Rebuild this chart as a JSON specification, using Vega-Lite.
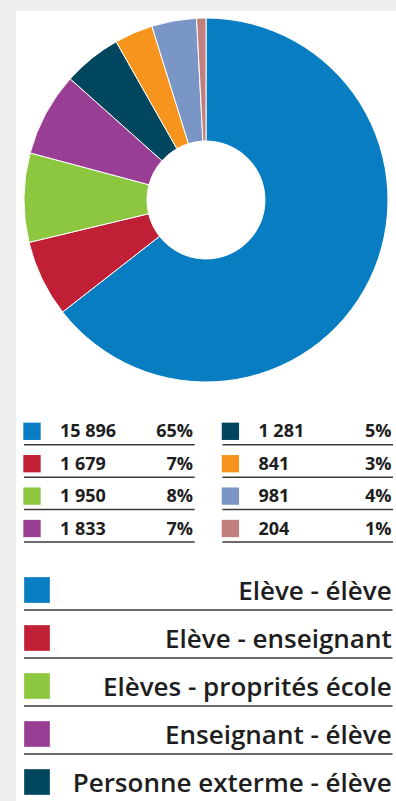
{
  "$schema": "https://vega.github.io/schema/vega-lite/v6.json",
  "background": "#eef0ef",
  "padding": {"left": 16, "top": 11, "right": 0, "bottom": 0},
  "spacing": 0,
  "bounds": "flush",
  "config": {"view": {"stroke": null, "fill": "white"}},
  "datasets": {
    "d": [
      {"idx": 1, "cat": "Elève - élève", "value": 15896, "label": "15 896", "pct": "65%", "col": 0, "row": 0},
      {"idx": 2, "cat": "Elève - enseignant", "value": 1679, "label": "1 679", "pct": "7%", "col": 0, "row": 1},
      {"idx": 3, "cat": "Elèves - proprités école", "value": 1950, "label": "1 950", "pct": "8%", "col": 0, "row": 2},
      {"idx": 4, "cat": "Enseignant - élève", "value": 1833, "label": "1 833", "pct": "7%", "col": 0, "row": 3},
      {"idx": 5, "cat": "Personne exterme - élève", "value": 1281, "label": "1 281", "pct": "5%", "col": 1, "row": 0},
      {"idx": 6, "cat": "Personne externe - enseignant", "value": 841, "label": "841", "pct": "3%", "col": 1, "row": 1},
      {"idx": 7, "cat": "Enseignant - enseignant", "value": 981, "label": "981", "pct": "4%", "col": 1, "row": 2},
      {"idx": 8, "cat": "Autres", "value": 204, "label": "204", "pct": "1%", "col": 1, "row": 3}
    ]
  },
  "vconcat": [
    {
      "width": 380,
      "height": 378,
      "data": {"name": "d"},
      "layer": [
        {
          "mark": {"type": "rect", "color": "white"},
          "encoding": {
            "x": {"value": 0}, "x2": {"value": "width"},
            "y": {"value": 0}, "y2": {"value": "height"}
          }
        },
        {
          "mark": {"type": "arc", "outerRadius": 182, "innerRadius": 59, "stroke": "white", "strokeWidth": 1},
          "encoding": {
            "theta": {"field": "value", "type": "quantitative", "stack": true},
            "order": {"field": "idx", "type": "quantitative"},
            "color": {
              "field": "cat", "type": "nominal", "legend": null,
              "scale": {
                "domain": ["Elève - élève", "Elève - enseignant", "Elèves - proprités école", "Enseignant - élève", "Personne exterme - élève", "Personne externe - enseignant", "Enseignant - enseignant", "Autres"],
                "range": ["#087dc2", "#c01f35", "#8dc63f", "#983f95", "#00465f", "#f7941d", "#7a96c6", "#c27f7f"]
              }
            }
          }
        }
      ]
    },
    {
      "width": 380,
      "height": 171,
      "data": {"name": "d"},
      "encoding": {
        "x": {"field": "col", "type": "quantitative", "axis": null, "scale": {"domain": [0, 1], "range": [7.3, 205.7], "zero": false, "nice": false}},
        "y": {"field": "row", "type": "quantitative", "axis": null, "scale": {"domain": [0, 3], "range": [42.3, 139.5], "zero": false, "nice": false}}
      },
      "layer": [
        {
          "mark": {"type": "square", "size": 300, "xOffset": 8.7, "opacity": 1, "filled": true},
          "encoding": {
            "color": {
              "field": "cat", "type": "nominal", "legend": null,
              "scale": {
                "domain": ["Elève - élève", "Elève - enseignant", "Elèves - proprités école", "Enseignant - élève", "Personne exterme - élève", "Personne externe - enseignant", "Enseignant - enseignant", "Autres"],
                "range": ["#087dc2", "#c01f35", "#8dc63f", "#983f95", "#00465f", "#f7941d", "#7a96c6", "#c27f7f"]
              }
            }
          }
        },
        {
          "mark": {"type": "text", "align": "left", "baseline": "middle", "xOffset": 36.7, "dy": 1, "font": "Open Sans", "fontWeight": "bold", "fontSize": 18, "color": "#1e1e1e"},
          "encoding": {"text": {"field": "label"}}
        },
        {
          "mark": {"type": "text", "align": "right", "baseline": "middle", "xOffset": 169.7, "dy": 1, "font": "Open Sans", "fontWeight": "bold", "fontSize": 18, "color": "#1e1e1e"},
          "encoding": {"text": {"field": "pct"}}
        },
        {
          "mark": {"type": "rule", "xOffset": 0.7, "x2Offset": 171.3, "yOffset": 13.5, "strokeWidth": 1.5, "color": "#3a3a3a"},
          "encoding": {"x2": {"field": "col"}}
        }
      ]
    },
    {
      "width": 380,
      "height": 241,
      "data": {"name": "d"},
      "transform": [{"filter": "datum.idx <= 5"}],
      "encoding": {
        "y": {"field": "idx", "type": "quantitative", "axis": null, "scale": {"domain": [1, 5], "range": [30, 222], "zero": false, "nice": false}}
      },
      "layer": [
        {
          "mark": {"type": "square", "size": 660, "xOffset": 13, "opacity": 1, "filled": true},
          "encoding": {
            "x": {"datum": 0, "type": "quantitative", "axis": null, "scale": {"domain": [0, 1], "range": [8, 376.5], "zero": false, "nice": false}},
            "color": {
              "field": "cat", "type": "nominal", "legend": null,
              "scale": {
                "domain": ["Elève - élève", "Elève - enseignant", "Elèves - proprités école", "Enseignant - élève", "Personne exterme - élève", "Personne externe - enseignant", "Enseignant - enseignant", "Autres"],
                "range": ["#087dc2", "#c01f35", "#8dc63f", "#983f95", "#00465f", "#f7941d", "#7a96c6", "#c27f7f"]
              }
            }
          }
        },
        {
          "mark": {"type": "text", "align": "right", "baseline": "middle", "xOffset": -0.8, "dy": 2, "font": "Open Sans", "fontWeight": 600, "fontSize": 26, "color": "#1e1e1e"},
          "encoding": {
            "x": {"datum": 1, "type": "quantitative"},
            "text": {"field": "cat"}
          }
        },
        {
          "transform": [{"filter": "datum.idx <= 4"}],
          "mark": {"type": "rule", "yOffset": 20, "strokeWidth": 1.5, "color": "#3a3a3a"},
          "encoding": {
            "x": {"datum": 0, "type": "quantitative"},
            "x2": {"datum": 1}
          }
        }
      ]
    }
  ]
}
